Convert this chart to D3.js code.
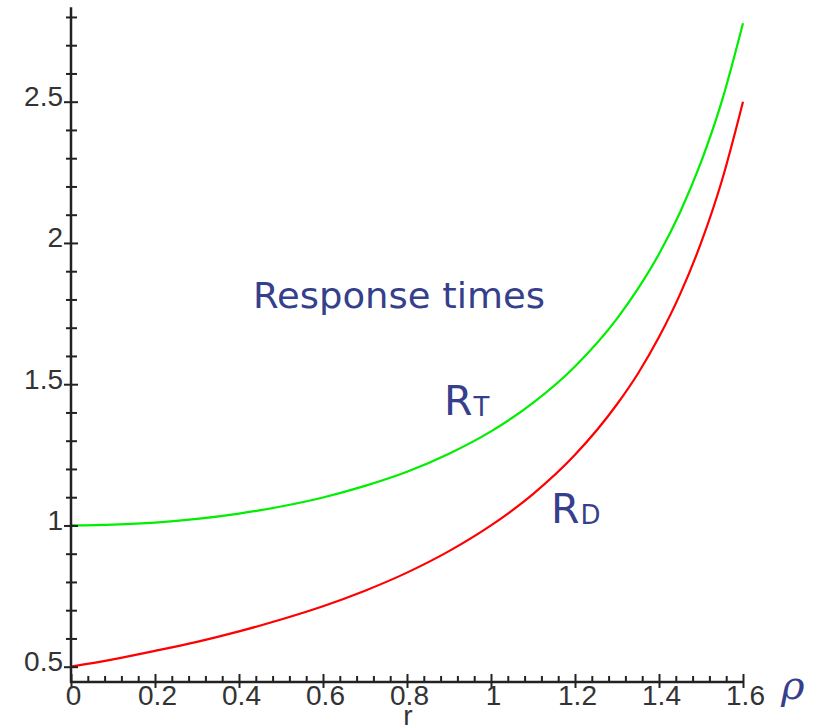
<!DOCTYPE html>
<html>
<head>
<meta charset="utf-8">
<script src="https://cdn.jsdelivr.net/npm/d3@7"></script>
<style>
  html, body { margin: 0; padding: 0; background: #fff; }
  svg { display: block; }
</style>
</head>
<body>
<svg id="chart" width="819" height="726"></svg>
<script>
// ---- data ----
const rValues  = [0, 0.1, 0.2, 0.3, 0.4, 0.5, 0.6, 0.7, 0.8, 0.9, 1.0, 1.1, 1.2, 1.3, 1.35, 1.4, 1.45, 1.5, 1.55, 1.6];
const rtValues = [1.000, 1.003, 1.010, 1.023, 1.042, 1.067, 1.099, 1.140, 1.190, 1.254, 1.333, 1.434, 1.563, 1.732, 1.838, 1.961, 2.108, 2.286, 2.504, 2.778];
const rdValues = [0.500, 0.526, 0.556, 0.588, 0.625, 0.667, 0.714, 0.769, 0.833, 0.909, 1.000, 1.111, 1.250, 1.429, 1.538, 1.667, 1.818, 2.000, 2.222, 2.500];
const xTickValues = [0, 0.2, 0.4, 0.6, 0.8, 1, 1.2, 1.4, 1.6];
const xTickLabels = ["0", "0.2", "0.4", "0.6", "0.8", "1", "1.2", "1.4", "1.6"];
const yTickValues = [0.5, 1, 1.5, 2, 2.5];
const yTickLabels = ["0.5", "1", "1.5", "2", "2.5"];
const xMinorStep = 0.04;
const yMinorStep = 0.1;

// ---- layout ----
const svg = d3.select("#chart");
const x = d3.scaleLinear().domain([0, 1.6]).range([71, 743]);
const y = d3.scaleLinear().domain([0.5, 2.5]).range([666.7, 101.7]);
const yBottom = 0.446, yTop = 2.834;
const axisY = y(yBottom);   // x-axis vertical position
const axisX = x(0);         // y-axis horizontal position
const axisColor = "#222";
const labelFont = "'Liberation Sans', Arial, sans-serif";
const blue = "#363f8c";

// ---- curves ----
const line = d3.line().x(d => x(d[0])).y(d => y(d[1])).curve(d3.curveMonotoneX);
svg.append("path")
  .datum(rValues.map((r, i) => [r, rtValues[i]]))
  .attr("d", line).attr("fill", "none").attr("stroke", "#00ee00").attr("stroke-width", 2.2);
svg.append("path")
  .datum(rValues.map((r, i) => [r, rdValues[i]]))
  .attr("d", line).attr("fill", "none").attr("stroke", "#ff0000").attr("stroke-width", 2.2);

// ---- y axis ----
const yMinor = d3.range(0.6, yTop, yMinorStep).filter(v => !yTickValues.some(t => Math.abs(t - v) < 1e-6));
const gyMinor = svg.append("g").attr("transform", `translate(${axisX},0)`)
  .call(d3.axisLeft(y).tickValues(yMinor).tickSize(5).tickFormat(""));
gyMinor.select(".domain").remove();
gyMinor.selectAll(".tick line").attr("x1", -5).attr("x2", 6).attr("stroke", axisColor).attr("stroke-width", 2);

const gy = svg.append("g").attr("transform", `translate(${axisX},0)`)
  .call(d3.axisLeft(y).tickValues(yTickValues).tickSize(6)
    .tickFormat((d, i) => yTickLabels[i]));
gy.select(".domain").remove();
gy.selectAll(".tick line").attr("x1", -7).attr("x2", 7).attr("stroke", axisColor).attr("stroke-width", 2);
gy.selectAll(".tick text")
  .attr("x", -8).attr("dy", 4)
  .style("font-family", labelFont).style("font-size", "28px").attr("fill", "#333");

svg.append("line")
  .attr("x1", axisX).attr("x2", axisX).attr("y1", y(yTop)).attr("y2", axisY + 1)
  .attr("stroke", axisColor).attr("stroke-width", 2.5);

// ---- x axis ----
const xMinor = d3.range(xMinorStep, 1.6 + 1e-6, xMinorStep).filter(v => !xTickValues.some(t => Math.abs(t - v) < 1e-6));
const gxMinor = svg.append("g").attr("transform", `translate(0,${axisY})`)
  .call(d3.axisBottom(x).tickValues(xMinor).tickFormat(""));
gxMinor.select(".domain").remove();
gxMinor.selectAll(".tick line").attr("y1", -6).attr("y2", 1).attr("stroke", axisColor).attr("stroke-width", 2);

const gx = svg.append("g").attr("transform", `translate(0,${axisY})`)
  .call(d3.axisBottom(x).tickValues(xTickValues).tickFormat((d, i) => xTickLabels[i]));
gx.select(".domain").remove();
gx.selectAll(".tick line").attr("y1", -8).attr("y2", 6).attr("stroke", axisColor).attr("stroke-width", 2);
gx.selectAll(".tick text")
  .attr("y", 23).attr("dy", 0).attr("dx", 2)
  .style("font-family", labelFont).style("font-size", "28px").attr("fill", "#333");

svg.append("line")
  .attr("x1", axisX - 1).attr("x2", x(1.6) + 1).attr("y1", axisY).attr("y2", axisY)
  .attr("stroke", axisColor).attr("stroke-width", 2.5);

// axis name "r"
svg.append("text").attr("x", (x(0) + x(1.6)) / 2 + 1).attr("y", 725)
  .attr("text-anchor", "middle").style("font-family", labelFont).style("font-size", "28px")
  .attr("fill", "#333").text("r");

// ρ
svg.append("text").attr("x", 781).attr("y", 699)
  .style("font-family", "'DejaVu Serif', 'Liberation Serif', serif").style("font-style", "italic")
  .style("font-size", "40px").attr("fill", blue).text("ρ");

// ---- annotations ----
const annFont = "Tahoma, 'DejaVu Sans', Verdana, sans-serif";
svg.append("text").attr("x", 253).attr("y", 308)
  .style("font-family", annFont).style("font-size", "36px").attr("fill", blue)
  .attr("textLength", 292).attr("lengthAdjust", "spacingAndGlyphs")
  .text("Response times");

function subLabel(x0, base, main, sub) {
  const t = svg.append("text").attr("x", x0).attr("y", base)
    .style("font-family", annFont).attr("fill", blue);
  t.append("tspan").style("font-size", "41px").text(main);
  t.append("tspan").style("font-size", "26px").attr("dx", 1).attr("dy", 1).text(sub);
}
subLabel(444, 415, "R", "T");
subLabel(551, 523, "R", "D");
</script>
</body>
</html>
